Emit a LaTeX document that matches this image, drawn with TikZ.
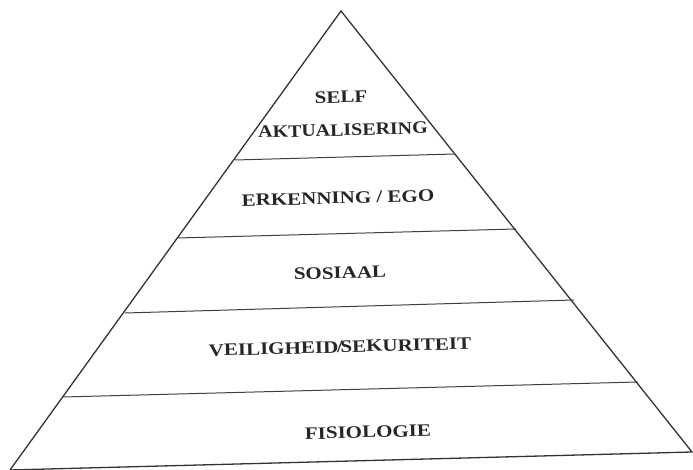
\documentclass[tikz,border=0pt]{standalone}
\usepackage{fontspec}
\setmainfont{Liberation Serif}
\begin{document}
\begin{tikzpicture}[x=1pt,y=1pt,
  edge/.style={draw=black!80, line width=1.3pt, line join=miter},
  divider/.style={draw=black!75, line width=1pt},
  lbl/.style={font=\fontsize{17.5}{20}\selectfont\bfseries, text=black!85, inner sep=0pt, rotate=1.5, xscale=1.2}]
\useasboundingbox (0,0) rectangle (693,470);
\coordinate (A) at (341,459);
\coordinate (BL) at (10,0);
\coordinate (BR) at (692,18);
\coordinate (l1) at (235,310); \coordinate (r1) at (455,316);
\coordinate (l2) at (177,232); \coordinate (r2) at (516,241);
\coordinate (l3) at (125,157); \coordinate (r3) at (574,170);
\coordinate (l4) at (63,73);   \coordinate (r4) at (638,88);
\draw[edge] (BL) -- (A) -- (BR) -- cycle;
\draw[divider] (l1) -- (r1);
\draw[divider] (l2) -- (r2);
\draw[divider] (l3) -- (r3);
\draw[divider] (l4) -- (r4);
\node[lbl] (self) at (341,373) {SELF};
\node[lbl, xscale=0.95] (akt) at (343,340) {AKTUALISERING};
\node[lbl] (ego) at (338,272) {ERKENNING / EGO};
\node[lbl] (sos) at (340,197) {SOSIAAL};
\node[lbl] (veil) at (340,123) {VEILIGHEID\hspace{-1pt}/\hspace{-2pt}SEKURITEIT};
\node[lbl] (fis) at (368,38) {FISIOLOGIE};
\end{tikzpicture}
\end{document}
